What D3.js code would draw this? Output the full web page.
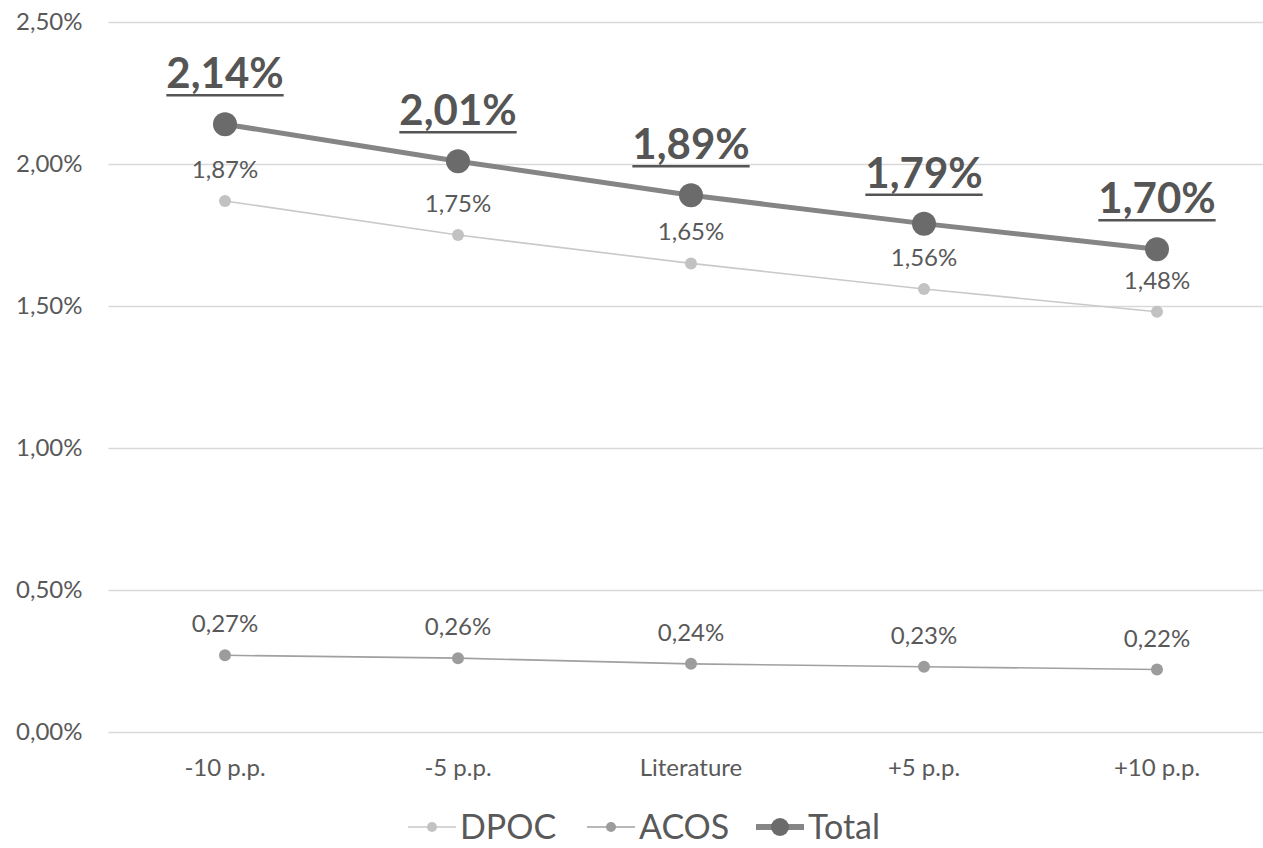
<!DOCTYPE html>
<html>
<head>
<meta charset="utf-8">
<script src="https://cdn.jsdelivr.net/npm/d3@7"></script>
<style>
  html, body { margin: 0; padding: 0; background: #fff; }
  svg { display: block; font-family: Lato, "Open Sans", sans-serif; }
</style>
</head>
<body>
<svg id="chart" width="1263" height="848"></svg>
<script>
// Scenario categories and series (values in %)
const categories = ["-10 p.p.", "-5 p.p.", "Literature", "+5 p.p.", "+10 p.p."];
const dpoc  = [1.87, 1.75, 1.65, 1.56, 1.48];
const acos  = [0.27, 0.26, 0.24, 0.23, 0.22];
const total = [2.14, 2.01, 1.89, 1.79, 1.70];
const yTicks = [0, 0.5, 1.0, 1.5, 2.0, 2.5];
const legendNames = ["DPOC", "ACOS", "Total"];

const fmt = v => d3.format(".2f")(v).replace(".", ",") + "%";

const svg = d3.select("#chart");
const margin = { left: 108.5, top: 22, bottom: 116 };
const bandW = 233;

const x = d3.scaleBand()
  .domain(categories)
  .range([margin.left, margin.left + bandW * categories.length]);
const y = d3.scaleLinear()
  .domain([0, 2.5])
  .range([732, 22]);

const cx = c => x(c) + x.bandwidth() / 2;

// Horizontal gridlines + y tick labels
const yAxis = d3.axisLeft(y).tickValues(yTicks).tickFormat(fmt)
  .tickSize(-(1263 - margin.left)).tickPadding(26);
const gy = svg.append("g").attr("transform", `translate(${margin.left},0)`).call(yAxis);
gy.select(".domain").remove();
gy.selectAll(".tick line").attr("stroke", "#d9d9d9").attr("stroke-width", 1.3);
gy.selectAll(".tick text").attr("fill", "#595959").style("font-size", "24px")
  .style("font-family", "Lato, sans-serif");

// X axis labels (no line, no ticks)
const xAxis = d3.axisBottom(x).tickSize(0).tickPadding(27);
const gx = svg.append("g").attr("transform", `translate(0,${y(0)})`).call(xAxis);
gx.select(".domain").remove();
gx.selectAll(".tick text").attr("fill", "#595959").style("font-size", "24px")
  .style("font-family", "Lato, sans-serif");

const line = d3.line().x((d, i) => cx(categories[i])).y(d => y(d));

const series = [
  { name: "DPOC", values: dpoc, stroke: "#c9c9c9", width: 1.6, r: 6, fill: "#c2c2c2" },
  { name: "ACOS", values: acos, stroke: "#a0a0a0", width: 1.6, r: 6, fill: "#9c9c9c" },
  { name: "Total", values: total, stroke: "#858585", width: 5, r: 12, fill: "#6b6b6b" }
];

series.forEach(s => {
  svg.append("path").datum(s.values)
    .attr("d", line).attr("fill", "none")
    .attr("stroke", s.stroke).attr("stroke-width", s.width);
  svg.append("g").selectAll("circle").data(s.values).join("circle")
    .attr("cx", (d, i) => cx(categories[i])).attr("cy", d => y(d))
    .attr("r", s.r).attr("fill", s.fill);
});

// Small value labels above the DPOC and ACOS points
[series[0], series[1]].forEach(s => {
  svg.append("g").selectAll("text").data(s.values).join("text")
    .attr("x", (d, i) => cx(categories[i])).attr("y", d => y(d) - 23)
    .attr("text-anchor", "middle").attr("fill", "#595959")
    .style("font-size", "24px").text(fmt);
});

// Bold underlined labels for the Total series
const tl = svg.append("g").selectAll("g").data(total).join("g")
  .attr("transform", (d, i) => `translate(${cx(categories[i])},${y(d) - 36})`);
tl.append("text").attr("text-anchor", "middle").attr("fill", "#555555")
  .style("font-size", "42px").style("font-weight", "bold").text(fmt)
  .each(function () {
    const bb = this.getBBox();
    d3.select(this.parentNode).append("line")
      .attr("x1", bb.x).attr("x2", bb.x + bb.width)
      .attr("y1", 7).attr("y2", 7)
      .attr("stroke", "#555555").attr("stroke-width", 2.5);
  });

// Legend
const legendY = 827;
const legendItems = [
  { s: series[0], x0: 408 },
  { s: series[1], x0: 587 },
  { s: series[2], x0: 756 }
];
legendItems.forEach(({ s, x0 }, k) => {
  const g = svg.append("g").attr("transform", `translate(${x0},${legendY})`);
  g.append("line").attr("x1", 0).attr("x2", 48).attr("y1", 0).attr("y2", 0)
    .attr("stroke", s.stroke).attr("stroke-width", s.r === 12 ? 6 : s.width);
  g.append("circle").attr("cx", 24).attr("cy", 0).attr("r", s.r === 12 ? 9 : 5)
    .attr("fill", s.fill);
  g.append("text").attr("x", 52).attr("y", 12).attr("fill", "#595959")
    .style("font-size", "34px").text(legendNames[k]);
});
</script>
</body>
</html>
